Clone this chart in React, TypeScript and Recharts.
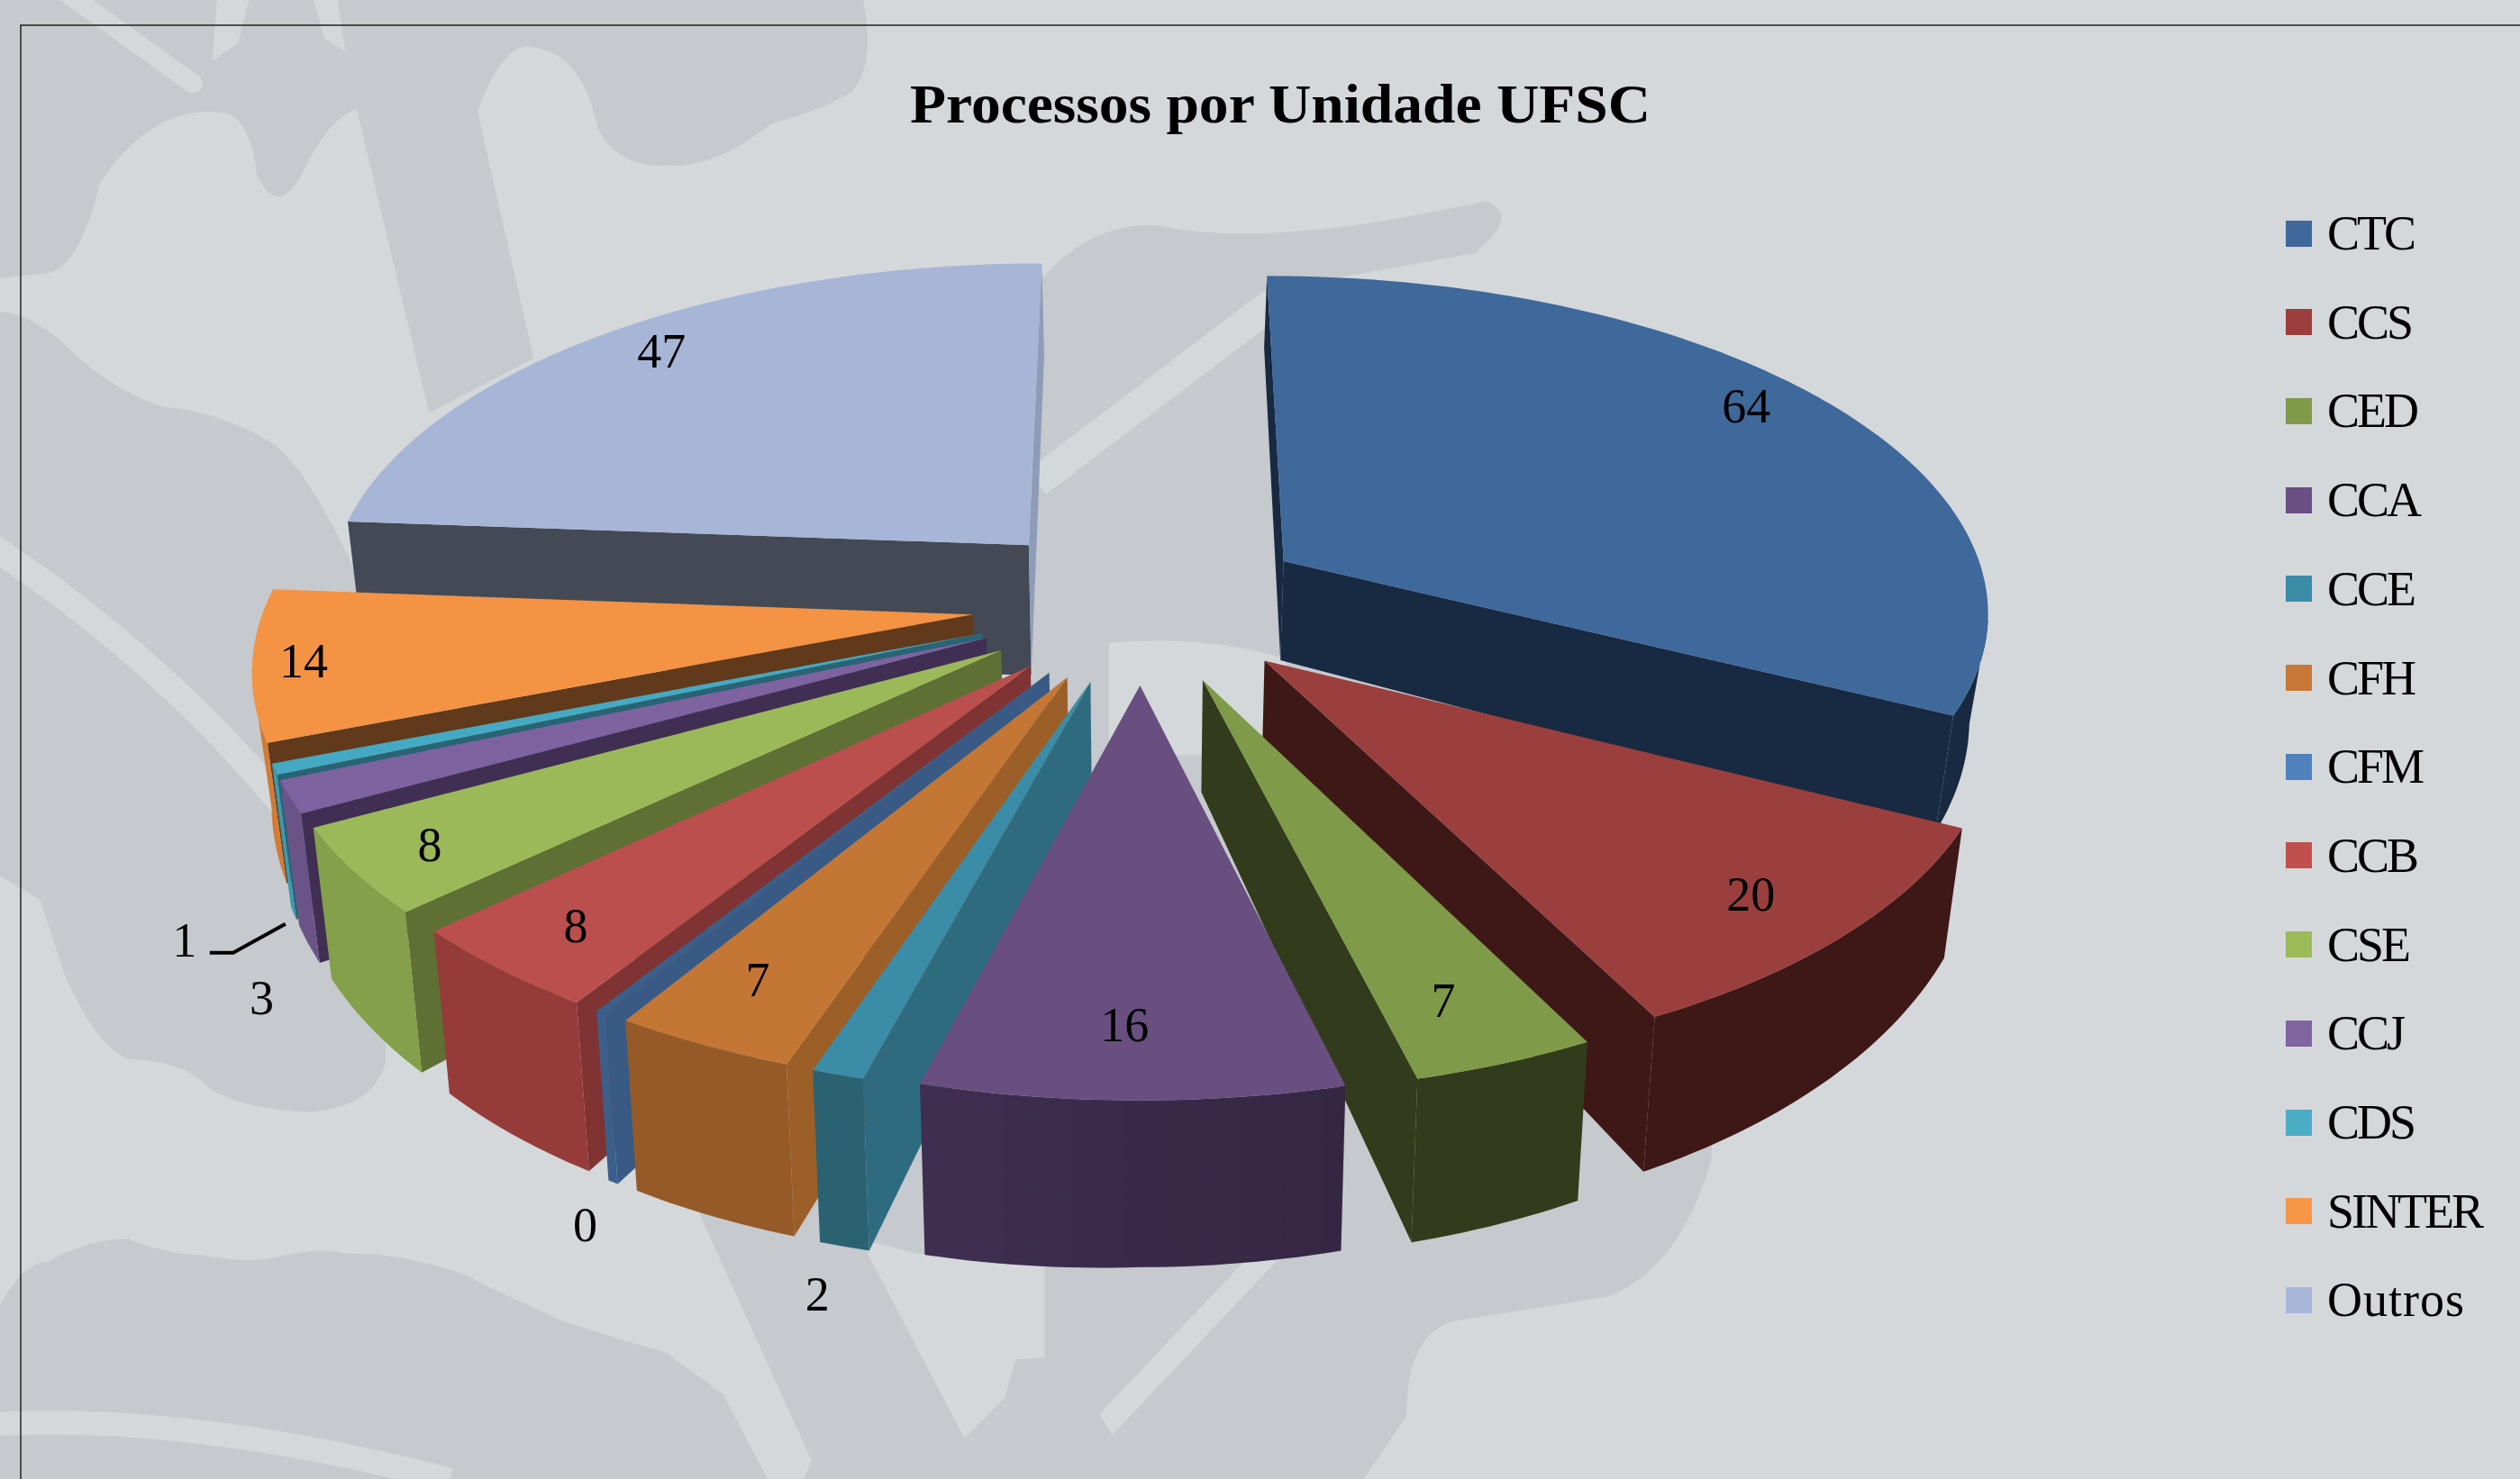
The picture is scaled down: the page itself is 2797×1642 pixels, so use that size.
import { PieChart, Pie, Legend } from 'recharts';

// Processos por unidade (CFM aparece como 0, mas tem uma fatia fina no grafico)
const names = ['CTC', 'CCS', 'CED', 'CCA', 'CCE', 'CFH', 'CFM', 'CCB', 'CSE', 'CCJ', 'CDS', 'SINTER', 'Outros'];
const values = [64, 20, 7, 16, 2, 7, 0.45, 8, 8, 3, 1, 14, 47];

const legendColors = ['#3f689b', '#9b3e3d', '#7f9a48', '#6a4f82', '#3b8ca6', '#c77836', '#4f81bd', '#c0504d', '#9bbb59', '#8064a2', '#4bacc6', '#f79646', '#a8b7d7'];
const topColors = ['#3f689b', '#9a3f3d', '#7f9a48', '#684f80', '#3b8ca6', '#c47734', '#3b5f88', '#bb4f4d', '#9bb958', '#7f62a0', '#44a9c3', '#f49344', '#a7b6d7'];
const sideColors = ['#172a42', '#3e1816', '#323c1c', '#3c2d4e', '#2f6b7f', '#9c5f28', '#385a85', '#7f3332', '#5e7034', '#402f52', '#296475', '#613a1b', '#434955'];
const outerColors = ['#172a42', '#3e1816', '#323c1c', '#3f2e50', '#2a6272', '#955a27', '#3b5f8a', '#953b3a', '#84a04a', '#6a5487', '#3d99b1', '#d07c36', '#8e9cb8'];

const slices = names.map((name, i) => ({ name, value: values[i] }));
const rightSlices = slices.slice(0, 4);
// painted back to front, so the left side runs counter-clockwise from the top
const leftSlices = slices.slice(4).reverse();
const total = values.reduce((a, b) => a + b, 0);
const rightSweep = (rightSlices.reduce((a, s) => a + s.value, 0) / total) * 360;

const WIDTH = 2797;
const HEIGHT = 1642;
const CX = 1267;
const CY = 669;
const RADIUS = 785;

// 3D look of the Excel chart
const EXPLODE = 0.24;
const DEPTH_SCALE = 0.4727;
const PERSPECTIVE = 0.135;
const WALL = 115;
const CAM = 1 / PERSPECTIVE;

const rad = (d: number) => (d * Math.PI) / 180;

function project(c: any, X: number, Y: number, Z: number) {
  const s = 1 / (1 - PERSPECTIVE * Y);
  const leftBoost = 1 + 0.15 * Math.max(0, -X);
  return {
    x: c.cx + c.r * X * s * (1 + 0.022 * Z),
    y: c.cy + c.r * DEPTH_SCALE * Y * s - Z * (c.wall ?? 1) * WALL * leftBoost * Math.pow(s, 2.6),
  };
}

// clockwise-from-top angles of a sector
function thetas(startAngle: number, endAngle: number) {
  const t1 = 90 - startAngle;
  const t2 = 90 - endAngle;
  let a = Math.min(t1, t2);
  let b = Math.max(t1, t2);
  if (b <= 0) {
    a += 360;
    b += 360;
  }
  return [a, b];
}

function apex(mid: number) {
  return { X: EXPLODE * Math.sin(rad(mid)), Y: -EXPLODE * Math.cos(rad(mid)) };
}

const pts = (list: { x: number; y: number }[]) => list.map((p) => `${p.x.toFixed(1)},${p.y.toFixed(1)}`).join(' ');

function Slice3D(props: any) {
  const { cx, cy, outerRadius, startAngle, endAngle, name } = props;
  const idx = names.indexOf(name);
  const c = { cx, cy, r: outerRadius, wall: name === 'Outros' ? 1.3 : 1 };
  const [a, b] = thetas(startAngle, endAngle);
  const o = apex((a + b) / 2);

  const rim = (t: number) => ({ X: o.X + Math.sin(rad(t)), Y: o.Y - Math.cos(rad(t)) });
  const arc: number[] = [];
  for (let t = a; t < b; t += 1) arc.push(t);
  arc.push(b);

  const top = [project(c, o.X, o.Y, 0), ...arc.map((t) => project(c, rim(t).X, rim(t).Y, 0))];

  const radialWall = (t: number) => {
    const e = rim(t);
    return [project(c, o.X, o.Y, 0), project(c, e.X, e.Y, 0), project(c, e.X, e.Y, -1), project(c, o.X, o.Y, -1)];
  };
  const startVisible = -Math.cos(rad(a)) * -o.X + -Math.sin(rad(a)) * (CAM - o.Y) > 0;
  const endVisible = Math.cos(rad(b)) * -o.X + Math.sin(rad(b)) * (CAM - o.Y) > 0;

  const frontArc = arc.filter((t) => {
    const p = rim(t);
    return Math.sin(rad(t)) * -p.X - Math.cos(rad(t)) * (CAM - p.Y) > 0;
  });
  const outerTop = frontArc.map((t) => project(c, rim(t).X, rim(t).Y, 0));
  const outerBottom = frontArc.map((t) => project(c, rim(t).X, rim(t).Y, -1)).reverse();

  return (
    <g>
      {startVisible && <polygon points={pts(radialWall(a))} fill={sideColors[idx]} />}
      {endVisible && <polygon points={pts(radialWall(b))} fill={idx === 12 ? outerColors[idx] : sideColors[idx]} />}
      {frontArc.length > 1 && (
        <>
          <polygon points={pts([...outerTop, ...outerBottom])} fill={outerColors[idx]} />
          {name === 'CCA' && <polygon points={pts([...outerTop, ...outerBottom])} fill="url(#wallShade)" />}
        </>
      )}
      <polygon points={pts(top)} fill={topColors[idx]} />
    </g>
  );
}

// labels that sit outside the slice, offset from the foot of its wall
const outsideLabels: Record<string, { dx: number; dy: number }> = {
  CFM: { dx: -31, dy: 48 },
  CCE: { dx: -30, dy: 53 },
  CCJ: { dx: -52, dy: 60 },
  CDS: { dx: -121, dy: 30 },
};
const labelReach: Record<string, number> = { Outros: 0.9, SINTER: 0.93, CSE: 0.89, CCB: 0.87, CFH: 0.87 };
const labelNudge: Record<string, { dx: number; dy: number }> = {
  CTC: { dx: -5, dy: -21 },
  Outros: { dx: 14, dy: 0 },
  CFH: { dx: 2, dy: -12 },
  CCA: { dx: -10, dy: -5 },
  CED: { dx: -12, dy: 2 },
  CCS: { dx: 0, dy: 5 },
};

function SliceLabel(props: any) {
  const { cx, cy, outerRadius, startAngle, endAngle, name, value } = props;
  const c = { cx, cy, r: outerRadius };
  const [a, b] = thetas(startAngle, endAngle);
  const mid = (a + b) / 2;
  const o = apex(mid);
  const out = outsideLabels[name];
  const reach = labelReach[name] ?? 0.85;
  const nudge = labelNudge[name] ?? { dx: 0, dy: 0 };
  let p;
  if (out) {
    const foot = project(c, o.X + Math.sin(rad(mid)), o.Y - Math.cos(rad(mid)), -1);
    p = { x: foot.x + out.dx, y: foot.y + out.dy };
  } else {
    const q = project(c, o.X + reach * Math.sin(rad(mid)), o.Y - reach * Math.cos(rad(mid)), 0);
    p = { x: q.x + nudge.dx, y: q.y + nudge.dy };
  }
  return (
    <g>
      {name === 'CDS' && (
        <polyline points={`${p.x + 28},${p.y + 14} ${p.x + 54},${p.y + 14} ${p.x + 112},${p.y - 18}`} fill="none" stroke="#000" strokeWidth={4} />
      )}
      <text x={p.x} y={p.y} textAnchor="middle" dominantBaseline="central" fontFamily="Liberation Serif" fontSize={54} fill="#000">
        {Math.round(value)}
      </text>
    </g>
  );
}

function LegendList() {
  return (
    <div style={{ position: 'relative', width: 270, height: 1283 }}>
      {names.map((name, i) => (
        <div key={name} style={{ position: 'absolute', left: 0, top: i * 98.7, height: 60, display: 'flex', alignItems: 'center' }}>
          <span style={{ width: 29, height: 29, background: legendColors[i], marginRight: 17 }} />
          <span style={{ fontFamily: 'Liberation Serif', fontSize: 54, letterSpacing: name === 'Outros' ? 1 : -3, color: '#000', whiteSpace: 'nowrap' }}>{name}</span>
        </div>
      ))}
    </div>
  );
}

// watermark behind the chart, in the reference's shrunk coordinates
const dark = '#c6c9cd';
const light = '#d4d8db';

function Backdrop() {
  return (
    <svg width={WIDTH} height={HEIGHT} style={{ position: 'absolute', left: 0, top: 0 }}>
      <defs>
        <linearGradient id="wallShade" x1="0" y1="0" x2="1" y2="0">
          <stop offset="0" stopColor="#000" stopOpacity={0} />
          <stop offset="1" stopColor="#000" stopOpacity={0.16} />
        </linearGradient>
      </defs>
      <rect width={WIDTH} height={HEIGHT} fill={light} />
      <g transform="scale(1.784)">
        <path fill={dark} d="M0,0 L537,0 Q545,40 530,57 Q515,67 480,77 Q445,105 415,103 Q385,105 372,80 Q362,30 327,29 Q312,30 297,69 L332,223 L267,257 L222,68 Q205,72 187,110 Q172,135 160,109 Q155,70 137,70 Q95,65 62,114 Q50,165 30,170 L0,173 Z" />
        <path fill={dark} d="M0,194 Q20,196 40,214 Q65,240 100,253 Q137,256 170,276 Q200,300 240,400 L240,661 Q232,690 190,692 Q150,690 130,677 Q115,660 80,659 Q60,652 40,606 L25,560 L0,545 Z" />
        <path fill={dark} d="M0,812 Q15,785 30,785 Q55,771 80,771 Q105,781 125,781 Q150,786 170,783 Q195,776 215,780 Q240,780 260,785 Q285,790 300,799 L350,822 Q390,835 415,842 L450,868 L478,921 L0,921 Z" />
        <path fill={dark} d="M645,177 Q680,135 725,141 Q790,155 925,125 Q945,135 920,155 L900,190 L1065,600 L1065,721 Q1045,790 1000,807 L905,822 Q875,830 875,881 L848,921 L500,921 L505,909 L430,744 L640,400 Z" />
        <path fill={light} d="M535,771 L600,895 L625,870 L632,846 L650,845 L650,784 L570,780 Z" />
        <path fill={light} d="M775,784 L795,784 L692,893 L684,880 Z" />
        <path fill={light} d="M690,400 Q750,395 800,410 L800,470 L690,470 Z" />
        <path fill="none" stroke={light} strokeWidth={12} strokeLinecap="round" d="M42,-4 L120,52" />
        <path fill={light} d="M135,0 L132,38 L148,27 L155,0 Z M195,0 L202,24 L215,32 L210,0 Z" />
        <path fill="none" stroke={light} strokeWidth={16} d="M-5,340 Q100,410 175,500" />
        <path fill="none" stroke={light} strokeWidth={19} d="M645,300 L790,190 L930,165" />
        <path fill="none" stroke={light} strokeWidth={15} d="M0,886 Q120,880 280,921" />
      </g>
      <path d="M2797,28 L23,28 L23,1642" fill="none" stroke="#222" strokeWidth={1.5} />
      <text x={1010} y={136} fontFamily="Liberation Serif" fontWeight="bold" fontSize={62} textLength={822} lengthAdjust="spacingAndGlyphs" fill="#000">
        Processos por Unidade UFSC
      </text>
    </svg>
  );
}

export default function App() {
  return (
    <div style={{ position: 'absolute', left: 0, top: 0, width: WIDTH, height: HEIGHT, overflow: 'hidden' }}>
      <Backdrop />
      <div style={{ position: 'absolute', left: 0, top: 0 }}>
        <PieChart width={WIDTH} height={HEIGHT} margin={{ top: 0, right: 0, bottom: 0, left: 0 }}>
          <Pie
            data={leftSlices}
            dataKey="value"
            nameKey="name"
            cx={CX}
            cy={CY}
            outerRadius={RADIUS}
            startAngle={90}
            endAngle={90 + (360 - rightSweep)}
            shape={Slice3D}
            inactiveShape={Slice3D}
            label={SliceLabel}
            labelLine={false}
            stroke="none"
            isAnimationActive={false}
          />
          <Pie
            data={rightSlices}
            dataKey="value"
            nameKey="name"
            cx={CX}
            cy={CY}
            outerRadius={RADIUS}
            startAngle={90}
            endAngle={90 - rightSweep}
            shape={Slice3D}
            inactiveShape={Slice3D}
            label={SliceLabel}
            labelLine={false}
            stroke="none"
            isAnimationActive={false}
          />
          <Legend
            layout="vertical"
            align="right"
            verticalAlign="top"
            content={() => <LegendList />}
            wrapperStyle={{ left: 2537, top: 229, width: 260 }}
          />
        </PieChart>
      </div>
    </div>
  );
}
